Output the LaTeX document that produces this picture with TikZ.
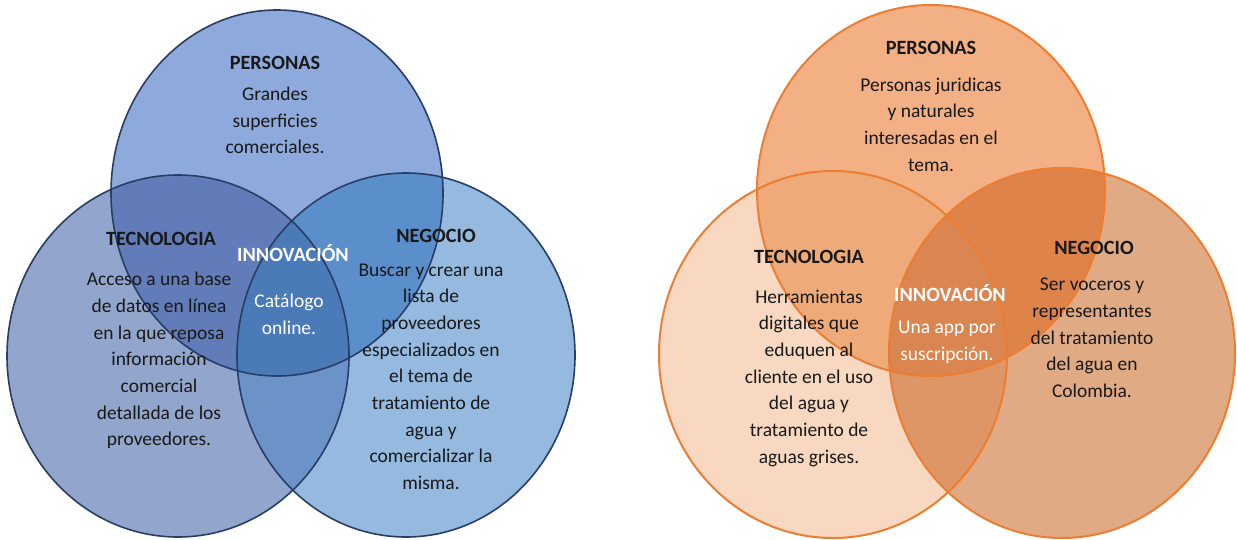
\documentclass[tikz,border=0pt]{standalone}
\usepackage{fontspec}
\setmainfont{Carlito}
\definecolor{bT}{RGB}{142,170,220}
\definecolor{bL}{RGB}{146,165,204}
\definecolor{bR}{RGB}{149,185,223}
\definecolor{bTL}{RGB}{97,124,184}
\definecolor{bTR}{RGB}{91,143,203}
\definecolor{bLR}{RGB}{108,147,200}
\definecolor{bC}{RGB}{74,122,184}
\definecolor{bstroke}{RGB}{40,62,102}
\definecolor{oT}{RGB}{242,176,132}
\definecolor{oL}{RGB}{248,216,192}
\definecolor{oR}{RGB}{224,170,133}
\definecolor{oTL}{RGB}{239,170,122}
\definecolor{oTR}{RGB}{222,131,74}
\definecolor{oLR}{RGB}{222,150,103}
\definecolor{oC}{RGB}{219,134,80}
\definecolor{ostroke}{RGB}{237,125,49}
\definecolor{txtc}{RGB}{25,25,25}
\def\bTop{(277,193) ellipse [x radius=166, y radius=183]}
\def\bLeft{(178,356) ellipse [x radius=171, y radius=181]}
\def\bRight{(406,355) ellipse [x radius=169, y radius=182]}
\def\oTop{(931,190.5) ellipse [x radius=174, y radius=185.5]}
\def\oLeft{(833,354.5) ellipse [x radius=174, y radius=183.5]}
\def\oRight{(1062,353) ellipse [x radius=173, y radius=185]}
\begin{document}
\begin{tikzpicture}[x=0.75pt,y=-0.75pt,
  txt/.style={font=\fontsize{14.6}{20}\selectfont, text=txtc, align=center, inner sep=0pt},
  wtxt/.style={txt, text=white},
  ttl/.style={font=\fontsize{15.2}{20}\selectfont\bfseries, text=txtc, inner sep=0pt},
  wttl/.style={ttl, text=white},
  bline/.style={draw=bstroke, line width=1.2pt},
  oline/.style={draw=ostroke, line width=1.5pt}]
\useasboundingbox (0,0) rectangle (1237,539);
\fill[white] (0,0) rectangle (1237,539);
% ---------- blue diagram ----------
\fill[bT] \bTop;
\fill[bL] \bLeft;
\fill[bR] \bRight;
\begin{scope}
  \clip \bTop;
  \fill[bTL] \bLeft;
  \fill[bTR] \bRight;
\end{scope}
\begin{scope}
  \clip \bLeft;
  \fill[bLR] \bRight;
  \clip \bTop;
  \fill[bC] \bRight;
\end{scope}
\draw[bline] \bTop;
\draw[bline] \bLeft;
\draw[bline] \bRight;
% ---------- orange diagram ----------
\fill[oT] \oTop;
\fill[oL] \oLeft;
\fill[oR] \oRight;
\begin{scope}
  \clip \oTop;
  \fill[oTL] \oLeft;
  \fill[oTR] \oRight;
\end{scope}
\begin{scope}
  \clip \oLeft;
  \fill[oLR] \oRight;
  \clip \oTop;
  \fill[oC] \oRight;
\end{scope}
\draw[oline] \oTop;
\draw[oline] \oLeft;
\draw[oline] \oRight;
% ---------- blue texts ----------
\node[ttl] (bpt) at (275,63) {PERSONAS};
\node[txt] (bpb) at (275,120.5) {Grandes\\superficies\\comerciales.};
\node[ttl] (btt) at (161,239) {TECNOLOGIA};
\node[txt] (btb) at (159,360.5) {Acceso a una base\\de datos en línea\\en la que reposa\\información\\comercial\\detallada de los\\proveedores.};
\node[wttl] (bit) at (293,253) {INNOVACIÓN};
\node[wtxt] (bib) at (289,314.5) {Catálogo\\online.};
\node[ttl] (bnt) at (436,236) {NEGOCIO};
\node[txt] (bnb) at (431,376.5) {Buscar y crear una\\lista de\\proveedores\\especializados en\\el tema de\\tratamiento de\\agua y\\comercializar la\\misma.};
% ---------- orange texts ----------
\node[ttl] (opt) at (931,48) {PERSONAS};
\node[txt] (opb) at (931,124.5) {Personas juridicas\\y naturales\\interesadas en el\\tema.};
\node[ttl] (ott) at (809,257) {TECNOLOGIA};
\node[txt] (otb) at (809,378) {Herramientas\\digitales que\\eduquen al\\cliente en el uso\\del agua y\\tratamiento de\\aguas grises.};
\node[wttl] (oit) at (950,293) {INNOVACIÓN};
\node[wtxt] (oib) at (947,342.5) {Una app por\\suscripción.};
\node[ttl] (ont) at (1094,248) {NEGOCIO};
\node[txt] (onb) at (1092,338) {Ser voceros y\\representantes\\del tratamiento\\del agua en\\Colombia.};
\end{tikzpicture}
\end{document}
